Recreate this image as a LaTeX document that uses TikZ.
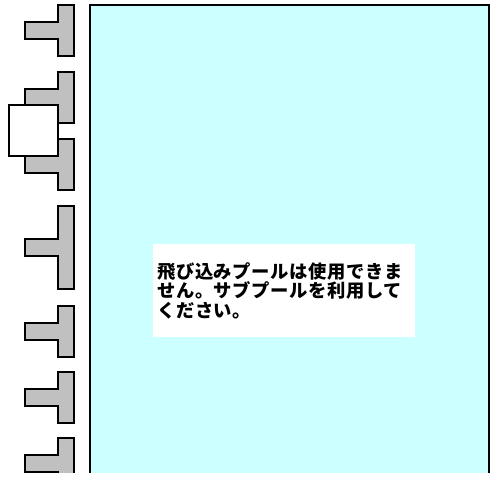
\documentclass[tikz,border=0pt]{standalone}
\usepackage{fontspec}
\newfontfamily\jpfont[LetterSpace=3.4]{Noto Sans CJK JP}
\usepackage{tikz}
\usetikzlibrary{positioning}
\definecolor{pgray}{HTML}{C0C0C0}
\definecolor{pcyan}{HTML}{CCFFFF}
\tikzset{
	tee/.style={draw, fill=pgray, line width=1.7pt, line join=miter},
	pool/.style={draw, fill=pcyan, line width=1.7pt},
	cover/.style={draw, fill=white, line width=1.7pt},
	note/.style={fill=white, anchor=north west, inner xsep=4pt, inner ysep=0pt,
		minimum width=262pt, minimum height=93pt, text width=254pt, align=left,
		font=\jpfont\bfseries\fontsize{18.3}{19.5}\selectfont}
}
\begin{document}
\begin{tikzpicture}[x=1pt, y=-1pt]
\useasboundingbox (0,0) rectangle (490,477);
\begin{scope}
\clip (0,0) rectangle (490,472.5);
\draw[pool] (90,500) -- (90,5) -- (489,5) -- (489,500);
\foreach \t in {5,72,139,306,372,438}
	\draw[tee] (74,\t) -- (58,\t) -- (58,\t+17) -- (25,\t+17) -- (25,\t+34)
		-- (58,\t+34) -- (58,\t+51) -- (74,\t+51) -- cycle;
\draw[tee] (74,206) -- (58,206) -- (58,239) -- (25,239) -- (25,256)
	-- (58,256) -- (58,289) -- (74,289) -- cycle;
\draw[cover] (9,105) rectangle (58,156);
\end{scope}
\node[note] (msg) at (153,244) {飛び込みプールは使用できま\\せん。サブプールを利用して\\ください。};
\end{tikzpicture}
\end{document}
